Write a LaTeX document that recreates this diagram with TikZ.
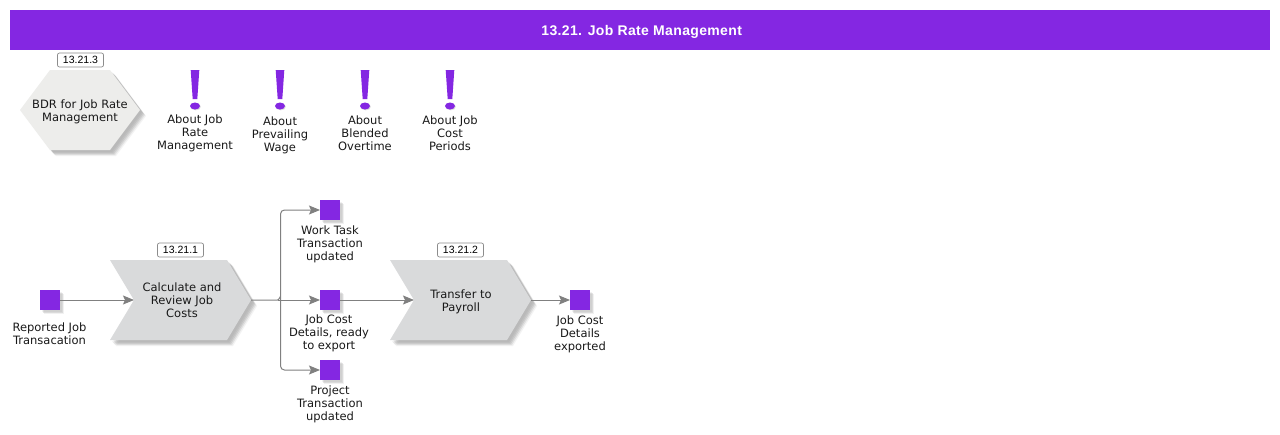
\documentclass[tikz,border=0pt]{standalone}
\usepackage{fontspec}
\setmainfont{DejaVu Sans}
\newfontfamily\tagfont{Liberation Sans}
\newfontfamily\titlefont[LetterSpace=2.5]{Liberation Sans}
\usetikzlibrary{arrows.meta}
\definecolor{brand}{HTML}{8427E2}
\definecolor{chev}{HTML}{D9DADB}
\definecolor{hexa}{HTML}{EDEDEB}
\definecolor{flow}{HTML}{808080}
\newcommand{\softshadow}[2]{%
  \fill[black!45,opacity=.10,shift={(2,2)}] #2;
  \fill[black!45,opacity=.20,shift={(3,3)}] #2;
  \fill[black!45,opacity=.22,shift={(4,4)}] #2;
  \fill[black!45,opacity=.18,shift={(5,5)}] #2;
  \fill[black!45,opacity=.10,shift={(6,6)}] #2;
  \fill[#1] #2;}
\newcommand{\chevronat}[1]{%
  \begin{scope}[shift={(#1,0)}]
  \softshadow{chev}{(110,260) -- (227,260) -- (251,300) -- (227,340) -- (110,340) -- (134,300) -- cycle}
  \end{scope}}
\newcommand{\bangat}[1]{%
  \begin{scope}[shift={(#1,0)}]
  \fill[black!35,opacity=.4] (.8,106.8) ellipse [x radius=5,y radius=3.5];
  \fill[brand] (-4.3,70) -- (4.3,70) -- (2.3,99) -- (-2.3,99) -- cycle;
  \fill[brand] (0,106) ellipse [x radius=5,y radius=3.5];
  \end{scope}}
\tikzset{
  lab/.style={align=center,font=\fontsize{11.5}{13}\selectfont,text=black!90,inner sep=0pt},
  tagbox/.style={draw=black!45,fill=white,rounded corners=2,line width=.7,font=\tagfont\fontsize{10.5}{12}\selectfont,minimum width=46,minimum height=14,inner sep=0pt},
  evt/.style={fill=brand,minimum size=20,inner sep=0pt,outer sep=0pt},
  flowline/.style={draw=flow,line width=1,-{Stealth[length=11,width=9,inset=2]}},
  flowplain/.style={draw=flow,line width=1}
}
\begin{document}
\begin{tikzpicture}[x=1pt,y=-1pt]
\useasboundingbox (0,0) rectangle (1280,434);
\fill[white] (0,0) rectangle (1280,434);
\fill[brand] (10,10) rectangle (1270,50);
\node[font=\titlefont\fontsize{14}{16}\bfseries\selectfont,text=white,inner sep=0pt] (title) at (641.7,31.8) {13.21. Job Rate Management};

\softshadow{hexa}{(20,110) -- (50,70) -- (110,70) -- (140,110) -- (110,150) -- (50,150) -- cycle}
\node[lab] (bdr) at (80,112) {BDR for Job Rate\\Management};
\node[tagbox] (tag3) at (80.5,60) {13.21.3};

\bangat{195}\bangat{280}\bangat{365}\bangat{450}
\node[lab] (a1) at (195,133.7) {About Job\\Rate\\Management};
\node[lab] (a2) at (280,135.5) {About\\Prevailing\\Wage};
\node[lab] (a3) at (365,133.7) {About\\Blended\\Overtime};
\node[lab] (a4) at (450,133.7) {About Job\\Cost\\Periods};

\chevronat{0}\chevronat{280}
\coordinate (calcIn) at (134,300);
\coordinate (calcOut) at (251,300);
\coordinate (payIn) at (414,300);
\coordinate (payOut) at (531,300);
\coordinate (fork) at (277.5,300);
\coordinate (forkUp) at (280.5,297);
\coordinate (forkMid) at (280.5,300);
\node[lab] (calc) at (182,300.7) {Calculate and\\Review Job\\Costs};
\node[lab] (pay) at (461,302) {Transfer to\\Payroll};
\node[tagbox] (tag1) at (180.5,250) {13.21.1};
\node[tagbox] (tag2) at (460.5,250) {13.21.2};

\foreach \n/\x/\y in {e1/50/300,e2/330/210,e3/330/300,e4/330/370,e5/580/300}{
  \fill[black!45,opacity=.12] (\x-8,\y-8) rectangle (\x+12,\y+12);
  \fill[black!45,opacity=.22] (\x-7,\y-7) rectangle (\x+13,\y+13);
  \fill[black!45,opacity=.12] (\x-6,\y-6) rectangle (\x+14,\y+14);
  \node[evt] (\n) at (\x,\y) {};
}
\node[lab] (t1) at (49.5,334.2) {Reported Job\\Transacation};
\node[lab] (t2) at (330,244.5) {Work Task\\Transaction\\updated};
\node[lab] (t3) at (329,333.5) {Job Cost\\Details, ready\\to export};
\node[lab] (t4) at (330,404.5) {Project\\Transaction\\updated};
\node[lab] (t5) at (580,334.5) {Job Cost\\Details\\exported};

\draw[flowline] (e1) -- (calcIn);
\draw[flowplain] (calcOut) -- (fork) to[out=0,in=90,looseness=1] (forkUp);
\draw[flowline,rounded corners=4] (forkMid) -- (forkMid |- e2) -- (e2.west);
\draw[flowline] (fork) -- (e3.west);
\draw[flowline,rounded corners=4] (forkMid) -- (forkMid |- e4) -- (e4.west);
\draw[flowline] (e3) -- (payIn);
\draw[flowline] (payOut) -- (e5.west);
\end{tikzpicture}
\end{document}
